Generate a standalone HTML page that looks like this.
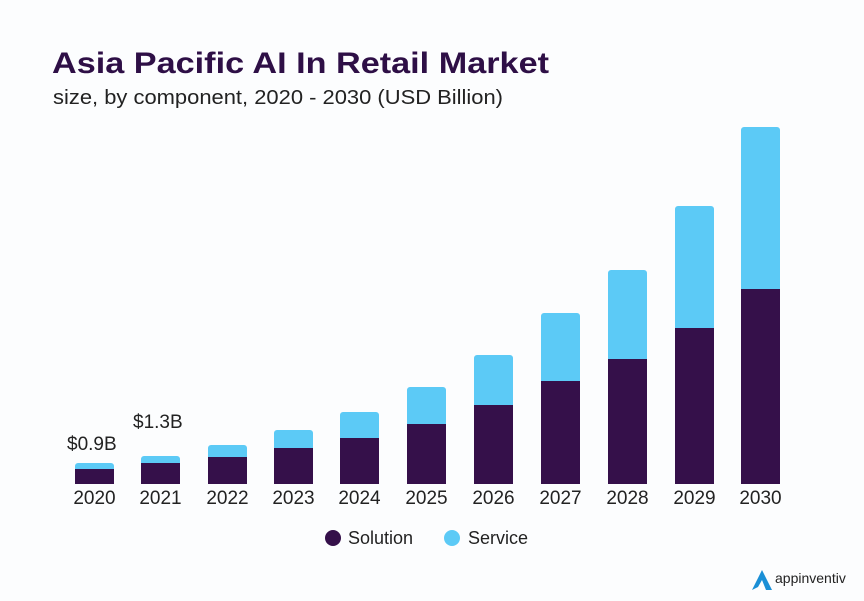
<!DOCTYPE html>
<html><head><meta charset="utf-8"><style>
body{margin:0;background:#fcfdfe;}
svg{display:block;font-family:"Liberation Sans",sans-serif;}
</style></head><body>
<svg width="864" height="601" viewBox="0 0 864 601">
<rect width="864" height="601" fill="#fcfdfe"/>
<text x="52" y="73" font-size="30" font-weight="bold" fill="#2e0f46" textLength="497" lengthAdjust="spacingAndGlyphs">Asia Pacific AI In Retail Market</text>
<text x="53" y="104" font-size="20" fill="#222" textLength="450" lengthAdjust="spacingAndGlyphs">size, by component, 2020 - 2030 (USD Billion)</text>
<g fill="#5ccaf6">
<rect x="75" y="463" width="39" height="21" rx="3"/>
<rect x="141" y="456" width="39" height="28" rx="3"/>
<rect x="208" y="445" width="39" height="39" rx="3"/>
<rect x="274" y="430" width="39" height="54" rx="3"/>
<rect x="340" y="412" width="39" height="72" rx="3"/>
<rect x="407" y="387" width="39" height="97" rx="3"/>
<rect x="474" y="355" width="39" height="129" rx="3"/>
<rect x="541" y="313" width="39" height="171" rx="3"/>
<rect x="608" y="270" width="39" height="214" rx="3"/>
<rect x="675" y="206" width="39" height="278" rx="3"/>
<rect x="741" y="127" width="39" height="357" rx="3"/>
</g>
<g fill="#35104a">
<rect x="75" y="469" width="39" height="15"/>
<rect x="141" y="463" width="39" height="21"/>
<rect x="208" y="457" width="39" height="27"/>
<rect x="274" y="448" width="39" height="36"/>
<rect x="340" y="438" width="39" height="46"/>
<rect x="407" y="424" width="39" height="60"/>
<rect x="474" y="405" width="39" height="79"/>
<rect x="541" y="381" width="39" height="103"/>
<rect x="608" y="359" width="39" height="125"/>
<rect x="675" y="328" width="39" height="156"/>
<rect x="741" y="289" width="39" height="195"/>
</g>
<text x="67" y="450" font-size="19" fill="#222">$0.9B</text>
<text x="133" y="428" font-size="19" fill="#222">$1.3B</text>
<g font-size="19" fill="#222" text-anchor="middle">
<text x="94.5" y="504">2020</text><text x="160.5" y="504">2021</text><text x="227.5" y="504">2022</text>
<text x="293.5" y="504">2023</text><text x="359.5" y="504">2024</text><text x="426.5" y="504">2025</text>
<text x="493.5" y="504">2026</text><text x="560.5" y="504">2027</text><text x="627.5" y="504">2028</text>
<text x="694.5" y="504">2029</text><text x="760.5" y="504">2030</text>
</g>
<circle cx="333" cy="538" r="8" fill="#35104a"/>
<text x="348" y="544" font-size="18" fill="#222">Solution</text>
<circle cx="452" cy="538" r="8" fill="#5ccaf6"/>
<text x="468" y="544" font-size="18" fill="#222">Service</text>
<path d="M752 590 L762 570 L772 590 L766 590 L762 580 L758 587 Z" fill="#1a8fd6"/>
<text x="775" y="583" font-size="14" fill="#222">appinventiv</text>
</svg>
</body></html>
